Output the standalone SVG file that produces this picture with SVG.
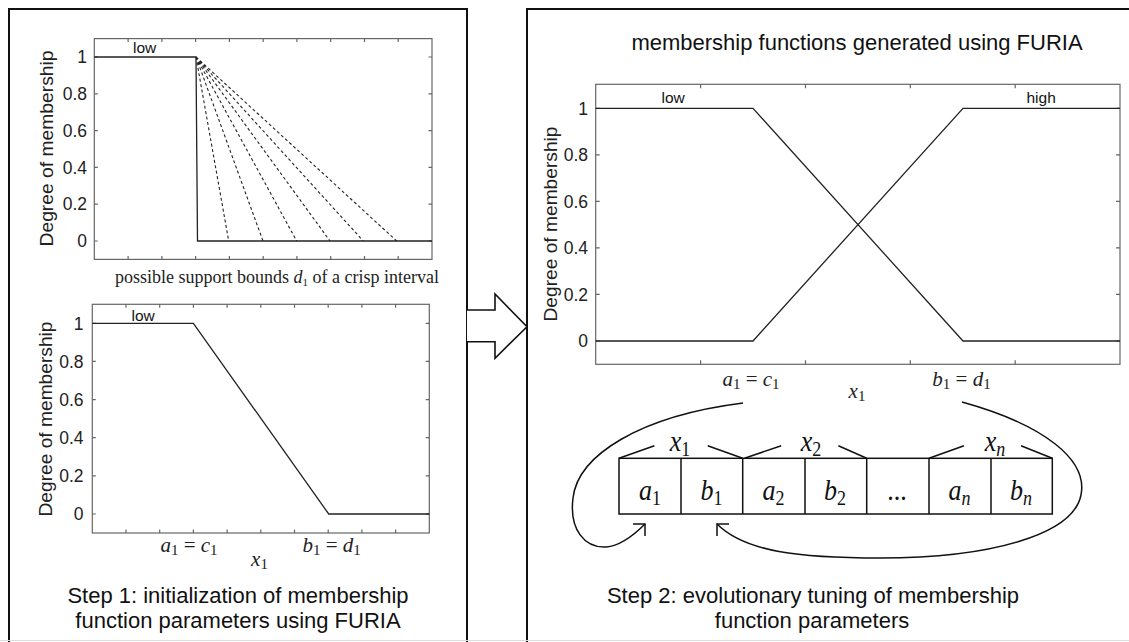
<svg xmlns="http://www.w3.org/2000/svg" width="1129" height="642" viewBox="0 0 1129 642">
<defs>
<style>
.panel{fill:none;stroke:#111;stroke-width:2}
.box{fill:none;stroke:#666;stroke-width:1.2}
.tick{fill:none;stroke:#666;stroke-width:1.2}
.mf{fill:none;stroke:#222;stroke-width:1.3}
.dash{fill:none;stroke:#222;stroke-width:1.1;stroke-dasharray:3 2.5}
.tl{font-family:"Liberation Sans",Arial,sans-serif;font-size:17.5px;fill:#222;text-anchor:end}
.yl{font-family:"Liberation Sans",Arial,sans-serif;font-size:18px;fill:#222;text-anchor:middle}
.lbl{font-family:"Liberation Sans",Arial,sans-serif;font-size:15.5px;fill:#111}
.cap{font-family:"Liberation Sans",Arial,sans-serif;font-size:22px;fill:#111;text-anchor:middle}
.m{font-family:"Liberation Serif","Times New Roman",serif;font-size:21px;fill:#222;text-anchor:middle}
.xl{font-family:"Liberation Serif","Times New Roman",serif;font-size:18px;fill:#222}
.cell{font-family:"Liberation Serif","Times New Roman",serif;font-size:26px;fill:#111;text-anchor:middle}
.i{font-style:italic}
.line{fill:none;stroke:#111;stroke-width:1.5}
</style>
<marker id="chev" viewBox="-10 -10 12 20" refX="0" refY="0" markerWidth="12" markerHeight="20" markerUnits="userSpaceOnUse" orient="auto">
<path d="M-8.5,-8.5 L0,0 L-8.5,8.5" fill="none" stroke="#111" stroke-width="1.5"/>
</marker>
</defs>
<rect width="1129" height="642" fill="#fff"/>

<g id="panel-left">
<path class="panel" d="M9,642 V9 H467 V642"/>
</g>
<g id="panel-right">
<path class="panel" d="M527,642 V9 H1132"/>
</g>
<line x1="0" y1="640.5" x2="1129" y2="640.5" stroke="#ddd" stroke-width="1"/>

<g id="plot-init-crisp">
<rect class="box" x="94.3" y="38.6" width="337.7" height="220.8"/>
<path class="tick" d="M94.3 57h3.5M94.3 93.8h3.5M94.3 130.6h3.5M94.3 167.4h3.5M94.3 204.2h3.5M94.3 241h3.5M432 57h-3.5M432 93.8h-3.5M432 130.6h-3.5M432 167.4h-3.5M432 204.2h-3.5M432 241h-3.5M128.1 259.4v-3.5M161.9 259.4v-3.5M195.6 259.4v-3.5M229.4 259.4v-3.5M263.2 259.4v-3.5M296.9 259.4v-3.5M330.7 259.4v-3.5M364.5 259.4v-3.5M398.2 259.4v-3.5M128.1 38.6v3.5M161.9 38.6v3.5M195.6 38.6v3.5M229.4 38.6v3.5M263.2 38.6v3.5M296.9 38.6v3.5M330.7 38.6v3.5M364.5 38.6v3.5M398.2 38.6v3.5"/>
<path class="mf" d="M94.3,57 H196 L197.5,241 H432"/>
<path class="dash" d="M196,57 L228.7,241M196,57 L263,241M196,57 L296.7,241M196,57 L330,241M196,57 L363.3,241M196,57 L396.7,241"/>
<text class="lbl" x="133" y="53">low</text>
<text class="tl" x="87" y="63.2">1</text>
<text class="tl" x="87" y="100">0.8</text>
<text class="tl" x="87" y="136.8">0.6</text>
<text class="tl" x="87" y="173.6">0.4</text>
<text class="tl" x="87" y="210.4">0.2</text>
<text class="tl" x="87" y="247.2">0</text>
<text class="yl" transform="translate(53.3,148.5) rotate(-90)" textLength="196" lengthAdjust="spacingAndGlyphs">Degree of membership</text>
<text class="xl" x="115" y="283">possible support bounds <tspan class="i">d</tspan><tspan font-size="11" dy="3">1</tspan><tspan dy="-3"> of a crisp interval</tspan></text>
</g>

<g id="plot-init">
<rect class="box" x="92.3" y="304.3" width="337" height="228.7"/>
<path class="tick" d="M92.3 323.3h3.5M92.3 361.4h3.5M92.3 399.6h3.5M92.3 437.7h3.5M92.3 475.9h3.5M92.3 514h3.5M429.3 323.3h-3.5M429.3 361.4h-3.5M429.3 399.6h-3.5M429.3 437.7h-3.5M429.3 475.9h-3.5M429.3 514h-3.5M126 533v-3.5M159.7 533v-3.5M193.4 533v-3.5M227.1 533v-3.5M260.8 533v-3.5M294.5 533v-3.5M328.2 533v-3.5M361.9 533v-3.5M395.6 533v-3.5M126 304.3v3.5M159.7 304.3v3.5M193.4 304.3v3.5M227.1 304.3v3.5M260.8 304.3v3.5M294.5 304.3v3.5M328.2 304.3v3.5M361.9 304.3v3.5M395.6 304.3v3.5"/>
<path class="mf" d="M92.3,323.3 H193.4 L328.7,514 H429.3"/>
<text class="lbl" x="131.5" y="320.5">low</text>
<text class="tl" x="83.5" y="329.5">1</text>
<text class="tl" x="83.5" y="367.6">0.8</text>
<text class="tl" x="83.5" y="405.8">0.6</text>
<text class="tl" x="83.5" y="443.9">0.4</text>
<text class="tl" x="83.5" y="482.1">0.2</text>
<text class="tl" x="83.5" y="520.2">0</text>
<text class="yl" transform="translate(51.7,419) rotate(-90)" textLength="195" lengthAdjust="spacingAndGlyphs">Degree of membership</text>
<text class="m" x="189" y="551.7"><tspan class="i">a</tspan><tspan font-size="15" dy="3">1</tspan><tspan dy="-3"> = </tspan><tspan class="i">c</tspan><tspan font-size="15" dy="3">1</tspan></text>
<text class="m" x="331.7" y="551.7"><tspan class="i">b</tspan><tspan font-size="15" dy="3">1</tspan><tspan dy="-3"> = </tspan><tspan class="i">d</tspan><tspan font-size="15" dy="3">1</tspan></text>
<text class="m" x="259.5" y="566"><tspan class="i">x</tspan><tspan font-size="15" dy="3">1</tspan></text>
</g>

<g id="caption-step1">
<text class="cap" x="238" y="603">Step 1: initialization of membership</text>
<text class="cap" x="238" y="628">function parameters using FURIA</text>
</g>

<g id="arrow-step">
<path d="M467,310 H495 V294 L527,326.7 L495,358.3 V341.7 H467" fill="#fff" stroke="#111" stroke-width="1.6" stroke-linejoin="miter"/>
</g>

<g id="plot-furia">
<text class="cap" x="857" y="50">membership functions generated using FURIA</text>
<rect class="box" x="595.7" y="84.3" width="524.3" height="280"/>
<path class="tick" d="M595.7 108.3h4M595.7 154.8h4M595.7 201.3h4M595.7 247.8h4M595.7 294.3h4M595.7 341h4M1120 108.3h-4M1120 154.8h-4M1120 201.3h-4M1120 247.8h-4M1120 294.3h-4M1120 341h-4M700.6 364.3v-4M805.5 364.3v-4M910.3 364.3v-4M1015.2 364.3v-4M700.6 84.3v4M805.5 84.3v4M910.3 84.3v4M1015.2 84.3v4"/>
<path class="mf" d="M595.7,108.3 H753 L963,341 H1120"/>
<path class="mf" d="M595.7,341 H753 L963,108.3 H1120"/>
<text class="lbl" x="661.5" y="102.7">low</text>
<text class="lbl" x="1026.5" y="102.7">high</text>
<text class="tl" x="588" y="114.5">1</text>
<text class="tl" x="588" y="161">0.8</text>
<text class="tl" x="588" y="207.5">0.6</text>
<text class="tl" x="588" y="254">0.4</text>
<text class="tl" x="588" y="300.5">0.2</text>
<text class="tl" x="588" y="347.2">0</text>
<text class="yl" transform="translate(557.3,224) rotate(-90)" textLength="195" lengthAdjust="spacingAndGlyphs">Degree of membership</text>
<text class="m" x="751" y="386"><tspan class="i">a</tspan><tspan font-size="15" dy="3">1</tspan><tspan dy="-3"> = </tspan><tspan class="i">c</tspan><tspan font-size="15" dy="3">1</tspan></text>
<text class="m" x="961.5" y="386"><tspan class="i">b</tspan><tspan font-size="15" dy="3">1</tspan><tspan dy="-3"> = </tspan><tspan class="i">d</tspan><tspan font-size="15" dy="3">1</tspan></text>
<text class="m" x="857" y="398"><tspan class="i">x</tspan><tspan font-size="15" dy="3">1</tspan></text>
</g>

<g id="chromosome">
<rect class="line" x="619" y="458.3" width="433.3" height="55.7"/>
<path class="line" d="M681,458.3V514M742.7,458.3V514M805,458.3V514M866.7,458.3V514M929,458.3V514M991,458.3V514"/>
<path class="line" d="M619,458.3 L654.4,445.7M707.7,445.7 L742.7,458.3M744.5,458.3 L781.2,445.7M838.4,445.7 L866.7,458.3M929,458.3 L964,445.7M1021,445.7 L1052.3,458.3"/>
<g transform="translate(0,451) scale(1,1.15) translate(0,-451)">
<text class="cell" x="680" y="451"><tspan class="i">x</tspan><tspan font-size="18" dy="4">1</tspan></text>
<text class="cell" x="811" y="451"><tspan class="i">x</tspan><tspan font-size="18" dy="4">2</tspan></text>
<text class="cell" x="995" y="451"><tspan class="i">x</tspan><tspan font-size="18" dy="4" class="i">n</tspan></text>
</g>
<g transform="translate(0,500) scale(1,1.15) translate(0,-500)">
<text class="cell" x="650" y="500"><tspan class="i">a</tspan><tspan font-size="18" dy="4">1</tspan></text>
<text class="cell" x="711.5" y="500"><tspan class="i">b</tspan><tspan font-size="18" dy="4">1</tspan></text>
<text class="cell" x="773.5" y="500"><tspan class="i">a</tspan><tspan font-size="18" dy="4">2</tspan></text>
<text class="cell" x="835" y="500"><tspan class="i">b</tspan><tspan font-size="18" dy="4">2</tspan></text>
<text class="cell" x="897" y="500" font-size="22">...</text>
<text class="cell" x="959.5" y="500"><tspan class="i">a</tspan><tspan font-size="18" dy="4" class="i">n</tspan></text>
<text class="cell" x="1021" y="500"><tspan class="i">b</tspan><tspan font-size="18" dy="4" class="i">n</tspan></text>
</g>
</g>

<g id="connectors">
<path class="line" marker-end="url(#chev)" d="M743,403 C640,416 578,455 573,498 C569,530 585,548 606,547 C620,546 633,536 645,524"/>
<path class="line" marker-end="url(#chev)" d="M962,402 C1045,425 1088,460 1081,495 C1073,535 990,558 880,558 C800,558 745,552 717,524"/>
</g>

<g id="caption-step2">
<text class="cap" x="813" y="602.7">Step 2: evolutionary tuning of membership</text>
<text class="cap" x="812" y="628.3">function parameters</text>
</g>
</svg>
